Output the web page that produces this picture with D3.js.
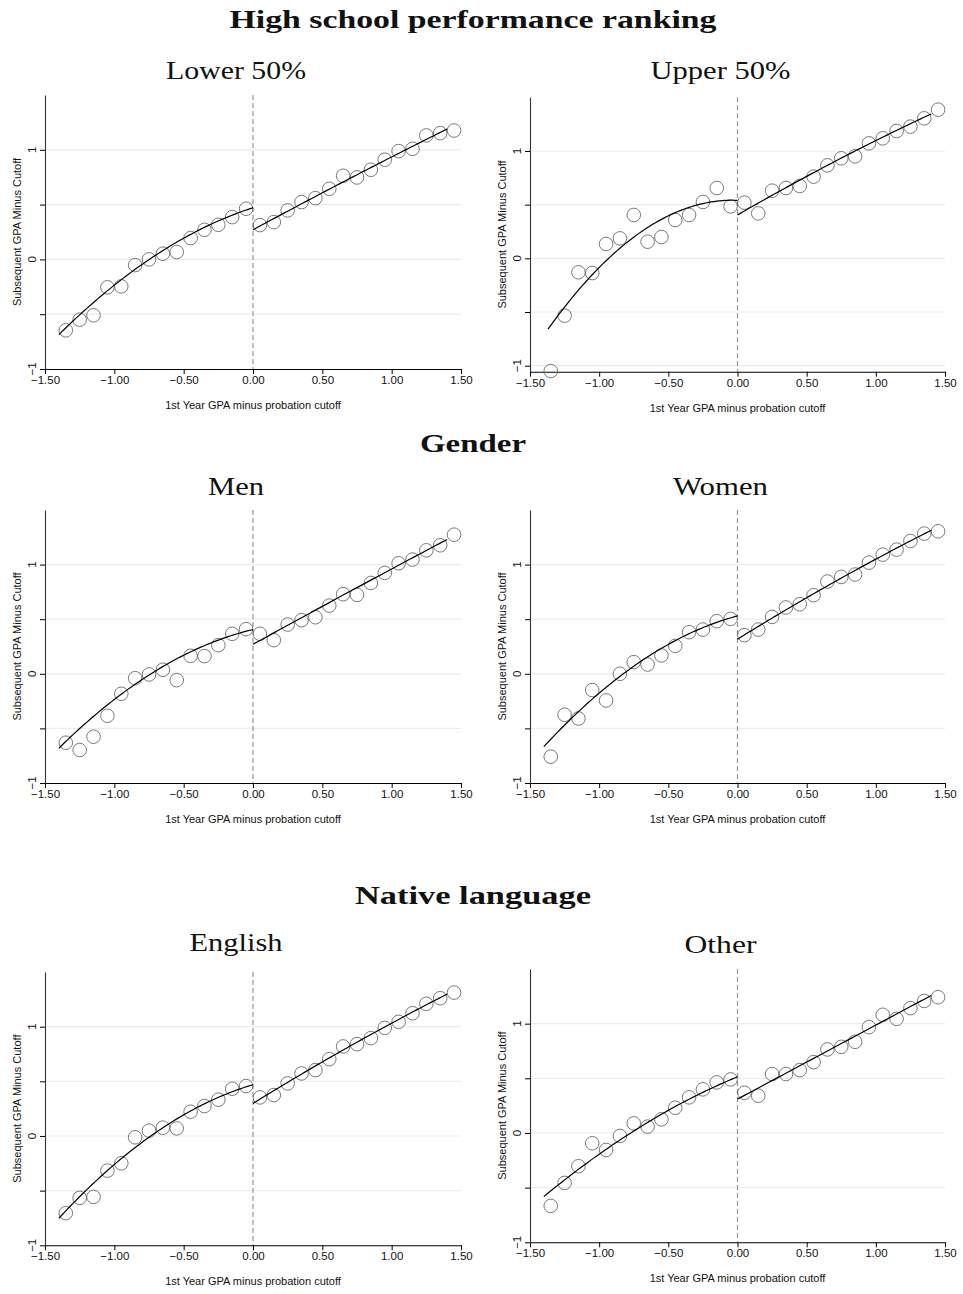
<!DOCTYPE html>
<html>
<head>
<meta charset="utf-8">
<script src="https://cdn.jsdelivr.net/npm/d3@7"></script>
<style>
html,body{margin:0;padding:0;background:#fff;}
svg{display:block;}
</style>
</head>
<body>
<svg id="chart" width="963" height="1294"></svg>
<script>
// ---------------- DATA ----------------
const binCenters = [-1.35,-1.25,-1.15,-1.05,-0.95,-0.85,-0.75,-0.65,-0.55,-0.45,-0.35,-0.25,-0.15,-0.05,
                     0.05,0.15,0.25,0.35,0.45,0.55,0.65,0.75,0.85,0.95,1.05,1.15,1.25,1.35,1.45];
const sectionTitles = ["High school performance ranking", "Gender", "Native language"];
const panelTitles = ["Lower 50%", "Upper 50%", "Men", "Women", "English", "Other"];
const xTicks = [-1.5,-1.0,-0.5,0,0.5,1.0,1.5];
const yTicks = [-1,-0.5,0,0.5,1];
const yLabelTicks = [-1,0,1];
const xAxisTitle = "1st Year GPA minus probation cutoff";
const yAxisTitle = "Subsequent GPA Minus Cutoff";

const lower50 = [-0.647,-0.55,-0.51,-0.255,-0.246,-0.052,0.0,0.052,0.067,0.195,0.27,0.316,0.386,0.462,
                 0.313,0.34,0.447,0.523,0.559,0.644,0.763,0.748,0.818,0.909,0.988,1.009,1.131,1.152,1.176];
const upper50 = [-1.05,-0.534,-0.13,-0.137,0.134,0.186,0.404,0.155,0.199,0.357,0.404,0.525,0.655,0.484,
                 0.519,0.419,0.63,0.655,0.674,0.761,0.866,0.932,0.95,1.071,1.118,1.186,1.227,1.304,1.385];
const men     = [-0.631,-0.698,-0.576,-0.384,-0.183,-0.04,-0.006,0.037,-0.058,0.165,0.162,0.262,0.366,0.409,
                 0.366,0.308,0.451,0.491,0.518,0.625,0.729,0.723,0.832,0.924,1.012,1.046,1.131,1.177,1.274];
const women   = [-0.759,-0.375,-0.409,-0.149,-0.244,0.0,0.107,0.085,0.168,0.256,0.381,0.405,0.482,0.503,
                 0.354,0.405,0.521,0.607,0.637,0.72,0.845,0.887,0.909,1.018,1.091,1.137,1.216,1.284,1.305];
const english = [-0.706,-0.566,-0.557,-0.317,-0.25,-0.012,0.049,0.076,0.07,0.222,0.274,0.332,0.432,0.457,
                 0.353,0.374,0.481,0.572,0.603,0.703,0.819,0.84,0.895,0.989,1.044,1.123,1.209,1.26,1.312];
const other   = [-0.667,-0.457,-0.304,-0.094,-0.155,-0.027,0.088,0.058,0.125,0.231,0.326,0.399,0.463,0.49,
                 0.368,0.341,0.539,0.539,0.575,0.648,0.764,0.788,0.834,0.968,1.081,1.044,1.142,1.208,1.242];

// quadratic fit coefficients [c0, c1, c2] : y = c0 + c1*x + c2*x^2
const fitLower50Left  = [0.471, 0.404, -0.302];
const fitLower50Right = [0.27, 0.685, -0.02];
const fitUpper50Left  = [0.54, -0.05, -0.676];
const fitUpper50Right = [0.404, 0.745, -0.052];
const fitMenLeft      = [0.405, 0.30, -0.34];
const fitMenRight     = [0.27, 0.70, -0.01];
const fitWomenLeft    = [0.53, 0.336, -0.371];
const fitWomenRight   = [0.317, 0.785, -0.052];
const fitEnglishLeft  = [0.469, 0.374, -0.356];
const fitEnglishRight = [0.298, 0.784, -0.05];
const fitOtherLeft    = [0.514, 0.521, -0.187];
const fitOtherRight   = [0.31, 0.677, 0.0];
// fit ranges
const fitLeftStart = [-1.4, -1.37, -1.4, -1.4, -1.4, -1.4];
const fitRightEnd = 1.4;

// ---------------- LAYOUT ----------------
const svg = d3.select("#chart");
const serif = "'Liberation Serif','Times New Roman',serif";
const sans = "'Liberation Sans',Arial,Helvetica,sans-serif";

const panels = [
  {vals: lower50, fl: fitLower50Left, fr: fitLower50Right, x0:45,  x1:461, yTop:95,  yBot:369,   yMin:-1,     titleY:79},
  {vals: upper50, fl: fitUpper50Left, fr: fitUpper50Right, x0:530, x1:945, yTop:97.3,yBot:371.7, yMin:-1.056, titleY:79},
  {vals: men,     fl: fitMenLeft,     fr: fitMenRight,     x0:45,  x1:461, yTop:510, yBot:783,   yMin:-1,     titleY:495},
  {vals: women,   fl: fitWomenLeft,   fr: fitWomenRight,   x0:530, x1:945, yTop:510, yBot:783,   yMin:-1,     titleY:495},
  {vals: english, fl: fitEnglishLeft, fr: fitEnglishRight, x0:45,  x1:461, yTop:972, yBot:1245.3,yMin:-1,     titleY:951},
  {vals: other,   fl: fitOtherLeft,   fr: fitOtherRight,   x0:530, x1:945, yTop:969, yBot:1242.3,yMin:-1,     titleY:953}
];
const sectionPos = [{x:473, y:28, w:487}, {x:473, y:452, w:106}, {x:473, y:904, w:236}];
const subW = [140, 140, 56, 95, 93, 72];

function fitText(sel, w){
  const node = sel.node();
  const L = node.getComputedTextLength();
  if (L > 0) sel.attr("textLength", w).attr("lengthAdjust", "spacingAndGlyphs");
}

sectionTitles.forEach((t,i)=>{
  const s = svg.append("text").attr("x", sectionPos[i].x).attr("y", sectionPos[i].y)
    .attr("text-anchor","middle").attr("font-family", serif).attr("font-weight","bold")
    .attr("font-size", 25).attr("fill","#111").text(t);
  fitText(s, sectionPos[i].w);
});

const quad = (c, x) => c[0] + c[1]*x + c[2]*x*x;

panels.forEach((p, i) => {
  const x = d3.scaleLinear().domain([-1.5, 1.5]).range([p.x0, p.x1]);
  const y = d3.scaleLinear().domain([p.yMin, 1.5]).range([p.yBot, p.yTop]);
  const g = svg.append("g");

  // subtitle
  const st = g.append("text").attr("x", (p.x0 + p.x1)/2 - 17).attr("y", p.titleY)
    .attr("text-anchor","middle").attr("font-family", serif).attr("font-size", 25)
    .attr("fill","#111").text(panelTitles[i]);
  fitText(st, subW[i]);

  // gridlines
  g.append("g").selectAll("line").data(yTicks.filter(v => y(v) < p.yBot - 1)).join("line")
    .attr("x1", p.x0).attr("x2", p.x1).attr("y1", d => y(d)).attr("y2", d => y(d))
    .attr("stroke", "#e6eff1").attr("stroke-width", 1.2);

  // x axis
  const xa = g.append("g").attr("transform", `translate(0,${p.yBot})`)
    .call(d3.axisBottom(x).tickValues(xTicks).tickSize(5).tickSizeOuter(0)
      .tickFormat(d => d3.format(".2f")(d).replace("-", "\u2212")));
  xa.select(".domain").attr("stroke", "#000").attr("stroke-width", 1.1);
  xa.selectAll(".tick line").attr("stroke", "#000").attr("stroke-width", 1);
  xa.selectAll(".tick text").attr("font-family", sans).attr("font-size", 11.5).attr("fill","#111").attr("dy","0.6em");

  // y axis
  const ya = g.append("g").attr("transform", `translate(${p.x0},0)`)
    .call(d3.axisLeft(y).tickValues(yTicks).tickSize(5).tickSizeOuter(0).tickFormat(() => ""));
  ya.select(".domain").attr("stroke", "#333").attr("stroke-width", 1.1);
  ya.selectAll(".tick line").attr("stroke", "#000").attr("stroke-width", 1);
  g.append("g").selectAll("text").data(yLabelTicks).join("text")
    .attr("transform", d => `translate(${p.x0 - 9},${y(d)}) rotate(-90)`)
    .attr("text-anchor", "middle").attr("font-family", sans).attr("font-size", 11.5).attr("fill","#111")
    .text(d => String(d).replace("-", "\u2212"));

  // axis titles
  g.append("text").attr("x", x(0)).attr("y", p.yBot + 40).attr("text-anchor","middle")
    .attr("font-family", sans).attr("font-size", 11).attr("fill","#111").text(xAxisTitle);
  g.append("text").attr("transform", `translate(${p.x0 - 24},${(p.yTop + p.yBot)/2}) rotate(-90)`)
    .attr("text-anchor","middle").attr("font-family", sans).attr("font-size", 11).attr("fill","#111").text(yAxisTitle);

  // cutoff dashed line
  g.append("line").attr("x1", x(0)).attr("x2", x(0)).attr("y1", p.yTop).attr("y2", p.yBot)
    .attr("stroke", "#9a9a9a").attr("stroke-width", 1.3).attr("stroke-dasharray", "5,3");

  // scatter circles
  g.append("g").selectAll("circle").data(binCenters.map((b, k) => [b, p.vals[k]])).join("circle")
    .attr("cx", d => x(d[0])).attr("cy", d => y(d[1])).attr("r", 6.8)
    .attr("fill", "none").attr("stroke", "#6a6a6a").attr("stroke-width", 0.9);

  // fitted lines
  const line = d3.line().x(d => x(d[0])).y(d => y(d[1]));
  const leftX = d3.range(fitLeftStart[i], 0.0001, 0.02).concat([0]);
  const rightX = d3.range(0, fitRightEnd + 0.0001, 0.02);
  g.append("path").attr("d", line(leftX.map(v => [v, quad(p.fl, v)])))
    .attr("fill","none").attr("stroke","#000").attr("stroke-width", 1.2);
  g.append("path").attr("d", line(rightX.map(v => [v, quad(p.fr, v)])))
    .attr("fill","none").attr("stroke","#000").attr("stroke-width", 1.2);
});
</script>
</body>
</html>
